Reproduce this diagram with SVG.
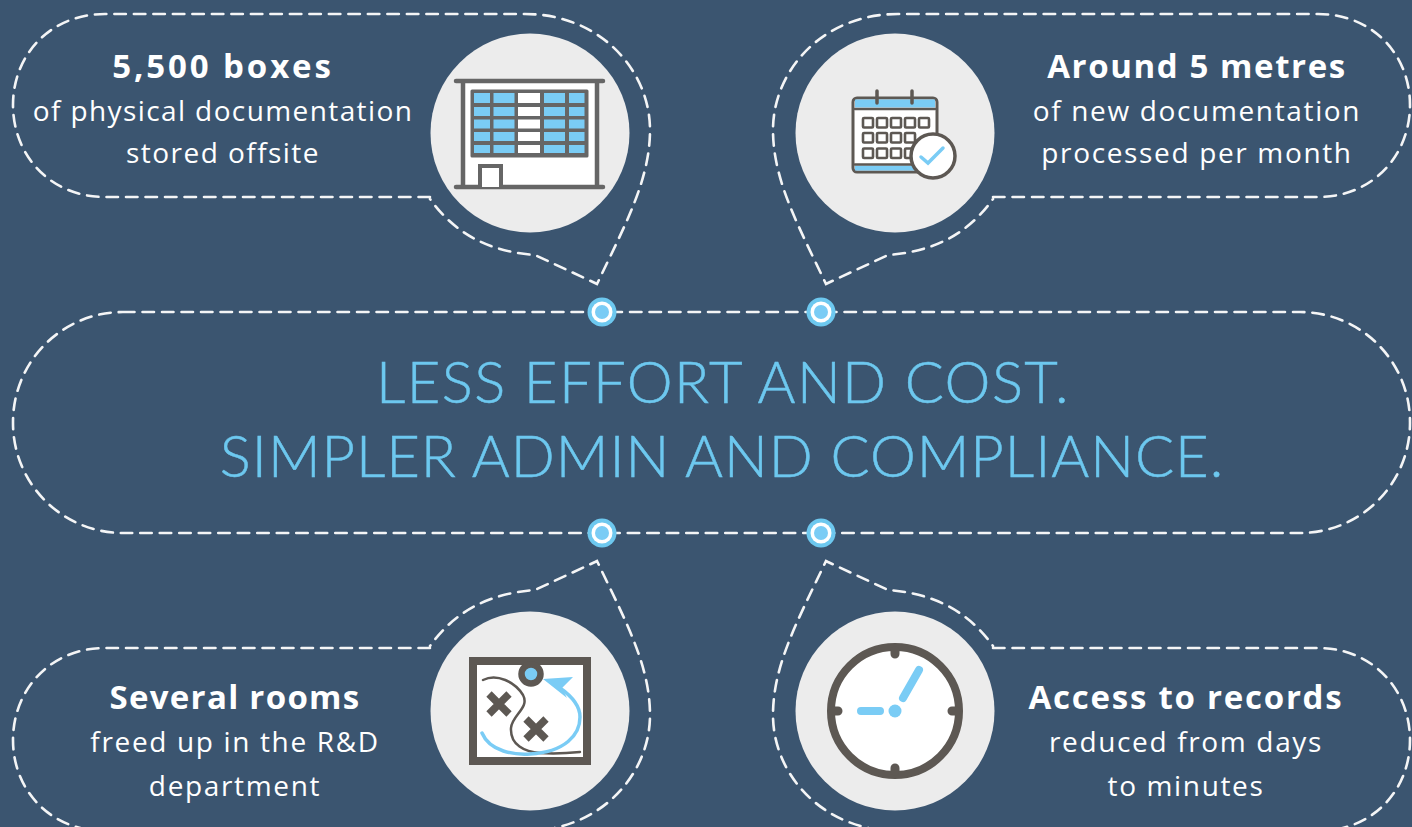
<svg xmlns="http://www.w3.org/2000/svg" xmlns:xlink="http://www.w3.org/1999/xlink" width="1412" height="827" viewBox="0 0 1412 827">
<style>
.dash{fill:none;stroke:#f4f5f6;stroke-width:2.6;stroke-dasharray:11.5 8;stroke-linecap:round}
.disc{fill:#ececec}
.h{font:700 33px "Open Sans","Liberation Sans",sans-serif;fill:#fff;text-anchor:middle;letter-spacing:1.6px}
.b{font:400 28px "Open Sans","Liberation Sans",sans-serif;fill:#fff;text-anchor:middle;letter-spacing:1.65px}
.t{font:300 58px "Lato","Liberation Sans",sans-serif;fill:#6dc8ef;stroke:#6dc8ef;stroke-width:.5;text-anchor:middle}
.blue{fill:#7accf5}
.line{fill:none;stroke:#5d5853;stroke-linecap:round;stroke-linejoin:round}
</style>
<defs>
<path id="bubble" class="dash" d="M430 197L105 197C50 197 13 155 13 105C13 55 50 14 105 14L525 14C600 14 650 70 650 130C650 180 625 225 597 284L595 283L535 255C495 252 458 238 430 199"/>
<g id="dot"><circle r="14.5" fill="#6dc8ef"/><circle r="10.500" fill="#fff"/><circle r="7" fill="#7accf5"/></g>
</defs>
<rect width="1412" height="827" fill="#3b5570"/>
<g id="connectors">
<use xlink:href="#bubble"/>
<use xlink:href="#bubble" transform="matrix(-1 0 0 1 1423 0)"/>
<use xlink:href="#bubble" transform="matrix(1 0 0 -1 0 845)"/>
<use xlink:href="#bubble" transform="matrix(-1 0 0 -1 1423 845)"/>
</g>
<g id="centre">
<rect class="dash" x="13" y="312" width="1397" height="221" rx="110" ry="110"/>
<use xlink:href="#dot" x="602" y="312"/>
<use xlink:href="#dot" x="821" y="312"/>
<use xlink:href="#dot" x="602" y="533"/>
<use xlink:href="#dot" x="821" y="533"/>
<text class="t" x="723" y="403" style="letter-spacing:1.4px">LESS EFFORT AND COST.</text>
<text class="t" x="722" y="477" style="letter-spacing:.95px">SIMPLER ADMIN AND COMPLIANCE.</text>
</g>
<g id="node-boxes">
<text class="h" x="223" y="78" style="letter-spacing:2.9px">5,500 boxes</text>
<text class="b" x="223" y="121" style="letter-spacing:1.4px">of physical documentation</text>
<text class="b" x="223" y="163" style="letter-spacing:1.45px">stored offsite</text>
<circle class="disc" cx="530" cy="133" r="99.5"/>
<path d="M463 81H597V187H463Z" fill="#fff"/>
<path d="M456 81H603M456 187H603M463 81V187M597 81V187" fill="none" stroke="#666" stroke-width="4.5" stroke-linecap="round"/>
<rect x="472" y="91" width="115" height="65" fill="#666" stroke="#666" stroke-width="3" stroke-linejoin="round"/>
<g class="blue">
<rect x="474" y="93" width="16" height="10"/><rect x="493.500" y="93" width="21" height="10"/><rect x="544" y="93" width="21" height="10"/><rect x="569" y="93" width="15.500" height="10"/>
<rect x="474" y="107" width="16" height="9"/><rect x="493.500" y="107" width="21" height="9"/><rect x="544" y="107" width="21" height="9"/><rect x="569" y="107" width="15.500" height="9"/>
<rect x="474" y="119.500" width="16" height="9"/><rect x="493.500" y="119.500" width="21" height="9"/><rect x="544" y="119.500" width="21" height="9"/><rect x="569" y="119.500" width="15.500" height="9"/>
<rect x="474" y="132" width="16" height="9"/><rect x="493.500" y="132" width="21" height="9"/><rect x="544" y="132" width="21" height="9"/><rect x="569" y="132" width="15.500" height="9"/>
<rect x="474" y="145" width="16" height="8"/><rect x="493.500" y="145" width="21" height="8"/><rect x="544" y="145" width="21" height="8"/><rect x="569" y="145" width="15.500" height="8"/>
</g>
<g fill="#fff">
<rect x="518" y="93" width="22" height="10"/><rect x="518" y="107" width="22" height="9"/><rect x="518" y="119.500" width="22" height="9"/><rect x="518" y="132" width="22" height="9"/><rect x="518" y="145" width="22" height="8"/>
</g>
<path d="M480 187V166H501V187" fill="#fff" stroke="#666" stroke-width="4"/>
</g>
<g id="node-metres">
<text class="h" x="1197" y="78">Around 5 metres</text>
<text class="b" x="1197" y="121">of new documentation</text>
<text class="b" x="1197" y="163">processed per month</text>
<circle class="disc" cx="895" cy="133" r="99.5"/>
<rect x="853" y="98" width="84" height="74" rx="4" fill="#fff" stroke="#5d5853" stroke-width="3"/>
<rect x="855" y="99.500" width="80" height="8" class="blue"/>
<rect x="855" y="165.500" width="80" height="5" class="blue"/>
<path d="M855 109H935M855 164.500H935" class="line" stroke-width="2.500"/>
<path d="M877 91V103M912 91V103" class="line" stroke-width="3.500"/>
<g fill="#fff" stroke="#5d5853" stroke-width="2.600">
<rect x="863" y="118" width="10" height="9.500" rx="1"/><rect x="877" y="118" width="10" height="9.500" rx="1"/><rect x="891" y="118" width="10" height="9.500" rx="1"/><rect x="905" y="118" width="10" height="9.500" rx="1"/><rect x="919" y="118" width="10" height="9.500" rx="1"/>
<rect x="863" y="133" width="10" height="9.500" rx="1"/><rect x="877" y="133" width="10" height="9.500" rx="1"/><rect x="891" y="133" width="10" height="9.500" rx="1"/><rect x="905" y="133" width="10" height="9.500" rx="1"/>
<rect x="863" y="148.500" width="10" height="9.500" rx="1"/><rect x="877" y="148.500" width="10" height="9.500" rx="1"/><rect x="891" y="148.500" width="10" height="9.500" rx="1"/><rect x="905" y="148.500" width="10" height="9.500" rx="1"/>
</g>
<circle cx="933" cy="156" r="22" fill="#fff" stroke="#5d5853" stroke-width="3.500"/>
<path d="M921 157L928 163L943 148" fill="none" stroke="#7accf5" stroke-width="3.500" stroke-linecap="round"/>
</g>
<g id="node-rooms">
<text class="h" x="235" y="709" style="letter-spacing:1.3px">Several rooms</text>
<text class="b" x="235" y="752">freed up in the R&amp;D</text>
<text class="b" x="235" y="796">department</text>
<circle class="disc" cx="530" cy="711" r="99.5"/>
<rect x="473" y="661" width="114" height="100" fill="#fff" stroke="#5d5853" stroke-width="8"/>
<path d="M483 680C497 673 515 682 523 695C530 708 512 715 511 728C510 745 525 752 540 753C555 754 570 753 580 752" class="line" stroke-width="2.500"/>
<path d="M489 694L509 714M509 694L489 714M526 719L546 739M546 719L526 739" fill="none" stroke="#5d5853" stroke-width="7.500"/>
<circle cx="531" cy="674" r="9.500" fill="#7accf5" stroke="#5d5853" stroke-width="6.500"/>
<path d="M482 733C490 752 515 755 530 754C565 752 580 735 580 717C580 705 570 695 560 688" fill="none" stroke="#7accf5" stroke-width="3.500" stroke-linecap="round"/>
<path d="M543 679L573 677L562 688L567 698Z" class="blue"/>
</g>
<g id="node-records">
<text class="h" x="1186" y="709" style="letter-spacing:1.75px">Access to records</text>
<text class="b" x="1186" y="752">reduced from days</text>
<text class="b" x="1186" y="796">to minutes</text>
<circle class="disc" cx="895" cy="711" r="99.5"/>
<circle cx="895" cy="711" r="64" fill="#fff" stroke="#5d5853" stroke-width="8"/>
<path d="M895 651V654M895 768V771M834 711H838M952 711H956" class="line" stroke-width="9"/>
<path d="M861 711H880M903 698L919 670" fill="none" stroke="#7accf5" stroke-width="8" stroke-linecap="round"/>
<circle cx="895" cy="711" r="6.500" class="blue"/>
</g>
</svg>
